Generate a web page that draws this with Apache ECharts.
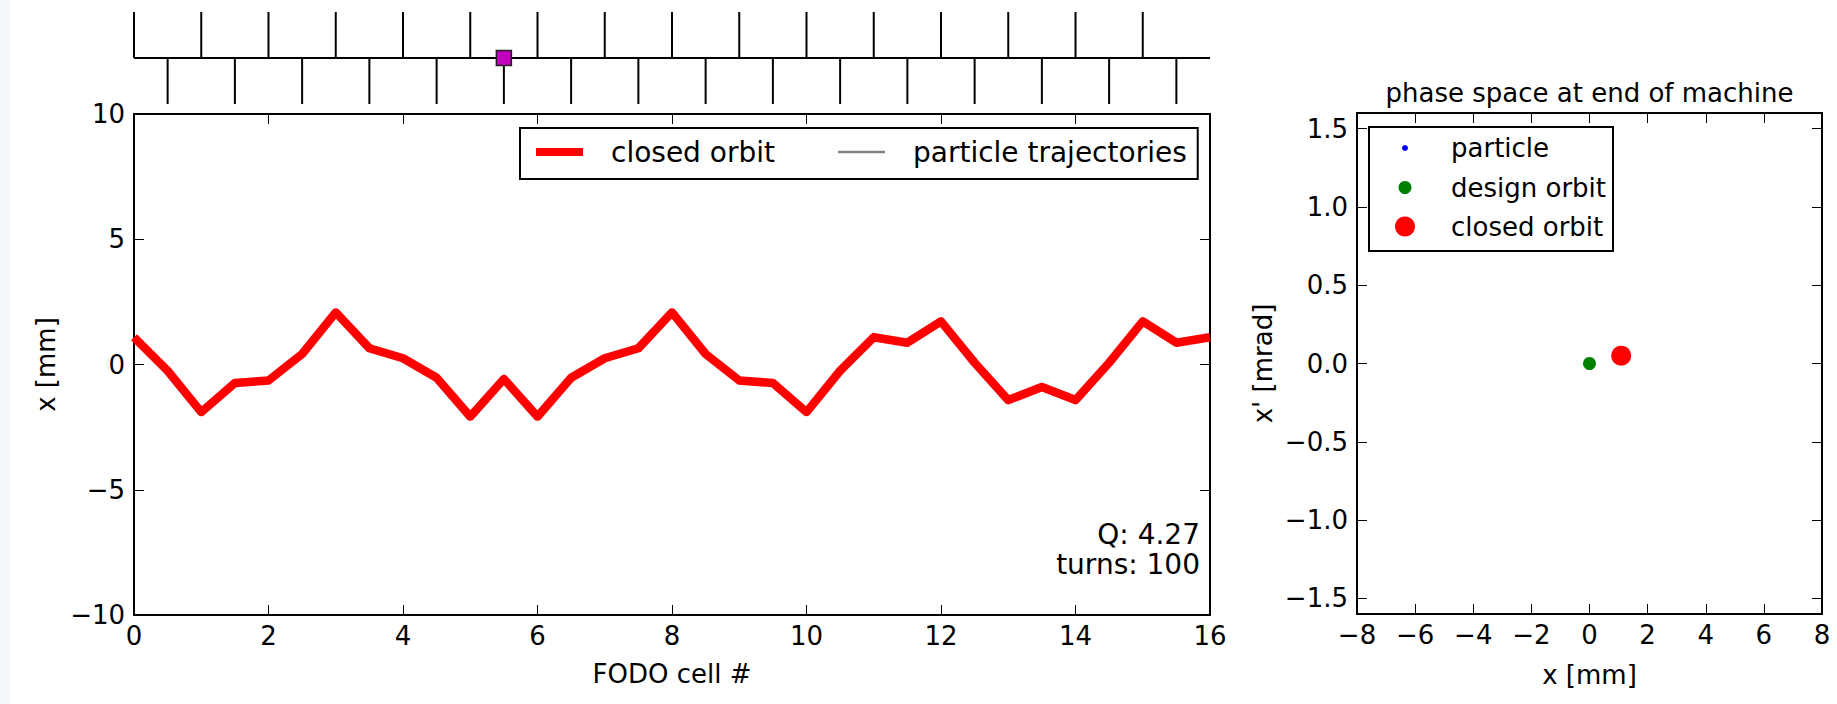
<!DOCTYPE html>
<html>
<head>
<meta charset="utf-8">
<script src="https://cdn.jsdelivr.net/npm/echarts@6/dist/echarts.min.js"></script>
<style>
html,body{margin:0;padding:0;background:#ffffff;}
#chart{width:1837px;height:704px;}
</style>
</head>
<body>
<div id="chart"></div>
<script>
// ---------- data ----------
const cellPositions = [0,0.5,1,1.5,2,2.5,3,3.5,4,4.5,5,5.5,6,6.5,7,7.5,8,8.5,9,9.5,10,10.5,11,11.5,12,12.5,13,13.5,14,14.5,15,15.5,16];
const closedOrbitX  = [1.09,-0.25,-1.9,-0.74,-0.64,0.42,2.08,0.65,0.25,-0.53,-2.08,-0.58,-2.08,-0.53,0.25,0.65,2.08,0.42,-0.64,-0.74,-1.9,-0.25,1.09,0.87,1.72,0.07,-1.42,-0.9,-1.42,0.07,1.72,0.87,1.09];
const particleTrajectories = [];
const focusingQuads   = [0,1,2,3,4,5,6,7,8,9,10,11,12,13,14,15];
const defocusingQuads = [0.5,1.5,2.5,3.5,4.5,5.5,6.5,7.5,8.5,9.5,10.5,11.5,12.5,13.5,14.5,15.5];
const kickPosition    = [5.5];
const latticeLine     = [0,16];
const phaseYTicks     = [-1.5,-1.0,-0.5,0.0,0.5,1.0,1.5];
const particlePoints    = [];
const designOrbitPoint  = [[0.0, 0.0]];
const closedOrbitPoint  = [[1.09, 0.05]];
const tuneQ = '4.27';
const turns = 100;

// ---------- helpers ----------
const FONT = 'DejaVu Sans';
const minus = s => String(s).replace('-', '\u2212');
const frameLine = {show:true, onZero:false, lineStyle:{color:'#000', width:2}};
const tickIn = {show:true, inside:true, length:10, lineStyle:{color:'#000', width:1}};
const lbl = (extra) => Object.assign({color:'#000', fontSize:26, fontFamily:FONT}, extra||{});

const chart = echarts.init(document.getElementById('chart'), null, {renderer:'svg'});

const option = {
  backgroundColor:'#ffffff',
  animation:false,
  textStyle:{fontFamily:FONT},
  title:{
    text:'phase space at end of machine',
    left:1589.5, top:80, padding:0, textAlign:'center',
    textStyle:{color:'#000', fontSize:26, fontWeight:'normal', fontFamily:FONT}
  },
  grid:[
    {left:134, top:114, width:1076, height:501, outerBoundsMode:'none'},
    {left:1357, top:113, width:465, height:501, outerBoundsMode:'none'},
    {left:134, top:12, width:1076, height:92, outerBoundsMode:'none'}
  ],
  xAxis:[
    {gridIndex:0, type:'value', min:0, max:16, interval:2, position:'bottom',
     axisLine:frameLine, axisTick:tickIn, splitLine:{show:false},
     axisLabel:lbl({margin:8, formatter:v=>minus(v)}),
     name:'FODO cell #', nameLocation:'middle', nameGap:46, nameTextStyle:lbl()},
    {gridIndex:0, type:'value', min:0, max:16, interval:2, position:'top',
     axisLine:frameLine, axisTick:tickIn, splitLine:{show:false}, axisLabel:{show:false}},
    {gridIndex:1, type:'value', min:-8, max:8, interval:2, position:'bottom',
     axisLine:frameLine, axisTick:tickIn, splitLine:{show:false},
     axisLabel:lbl({margin:8, formatter:v=>minus(v)}),
     name:'x [mm]', nameLocation:'middle', nameGap:48, nameTextStyle:lbl()},
    {gridIndex:1, type:'value', min:-8, max:8, interval:2, position:'top',
     axisLine:frameLine, axisTick:tickIn, splitLine:{show:false}, axisLabel:{show:false}},
    {gridIndex:2, type:'value', min:0, max:16, show:false}
  ],
  yAxis:[
    {gridIndex:0, type:'value', min:-10, max:10, interval:5, position:'left',
     axisLine:frameLine, axisTick:tickIn, splitLine:{show:false},
     axisLabel:lbl({margin:9, formatter:v=>minus(v)}),
     name:'x [mm]', nameLocation:'middle', nameGap:74, nameTextStyle:lbl()},
    {gridIndex:0, type:'value', min:-10, max:10, interval:5, position:'right',
     axisLine:frameLine, axisTick:tickIn, splitLine:{show:false}, axisLabel:{show:false}},
    {gridIndex:1, type:'value', min:-1.6, max:1.6, position:'left',
     axisLine:frameLine, axisTick:Object.assign({customValues:phaseYTicks}, tickIn), splitLine:{show:false},
     axisLabel:lbl({margin:9, customValues:phaseYTicks, formatter:v=>minus(Number(v).toFixed(1))}),
     name:"x' [mrad]", nameLocation:'middle', nameGap:81, nameTextStyle:lbl()},
    {gridIndex:1, type:'value', min:-1.6, max:1.6, position:'right',
     axisLine:frameLine, axisTick:Object.assign({customValues:phaseYTicks}, tickIn), splitLine:{show:false}, axisLabel:{show:false}},
    {gridIndex:2, type:'value', min:-1, max:1, show:false}
  ],
  legend:[
    {left:520, top:128, padding:[10,11,13,16], orient:'horizontal',
     borderColor:'#000', borderWidth:2, backgroundColor:'#fff',
     itemWidth:47, itemHeight:8, itemGap:63, selectedMode:false, z:10,
     textStyle:{color:'#000', fontSize:28, fontFamily:FONT, lineHeight:28, padding:[0,0,0,23]},
     data:[
       {name:'closed orbit', icon:'rect', itemStyle:{color:'#ff0000', opacity:1}},
       {name:'particle trajectories', icon:'path://M0,0H47V2.5H0Z', itemStyle:{color:'#808080', opacity:1}}
     ]},
    {left:1402, top:133, padding:0, itemWidth:6, itemHeight:6, selectedMode:false, z:10,
     textStyle:{color:'#000', fontSize:26, fontFamily:FONT, lineHeight:30, padding:[0,0,0,38]},
     data:[{name:'particle', icon:'circle', itemStyle:{color:'#0000ff', opacity:1}}]},
    {left:1398.5, top:172.5, padding:0, itemWidth:13, itemHeight:13, selectedMode:false, z:10,
     textStyle:{color:'#000', fontSize:26, fontFamily:FONT, lineHeight:30, padding:[0,0,0,34.5]},
     data:[{name:'design orbit', icon:'circle', itemStyle:{color:'#008000', opacity:1}}]},
    {left:1395, top:211.5, padding:0, itemWidth:20, itemHeight:20, selectedMode:false, z:10,
     textStyle:{color:'#000', fontSize:26, fontFamily:FONT, lineHeight:30, padding:[0,0,0,31]},
     data:[{name:'closed orbit', icon:'circle', itemStyle:{color:'#ff0000', opacity:1}}]}
  ],
  graphic:[
    {type:'rect', left:0, top:0, z:-10, shape:{width:10, height:704}, style:{fill:'#f4f7fb'}},
    {type:'rect', z:5, shape:{x:1369, y:127, width:244, height:124}, style:{fill:'#fff', stroke:'#000', lineWidth:2}},
    {type:'text', z:5, style:{x:1200, y:534, text:'Q: ' + tuneQ, align:'right', verticalAlign:'middle', fontSize:28, fontFamily:FONT, fill:'#000'}},
    {type:'text', z:5, style:{x:1200, y:564, text:'turns: ' + turns, align:'right', verticalAlign:'middle', fontSize:28, fontFamily:FONT, fill:'#000'}}
  ],
  series:[
    {name:'closed orbit', type:'line', xAxisIndex:0, yAxisIndex:0,
     data:cellPositions.map((x,i)=>[x, closedOrbitX[i]]),
     symbol:'none', lineStyle:{color:'#ff0000', width:8.5, join:'round', cap:'butt', opacity:1}, itemStyle:{color:'#ff0000'}, z:3},
    {name:'particle trajectories', type:'line', xAxisIndex:0, yAxisIndex:0,
     data:particleTrajectories, symbol:'none', lineStyle:{color:'#808080', width:2}, itemStyle:{color:'#808080'}},
    {name:'particle', type:'scatter', xAxisIndex:2, yAxisIndex:2, data:particlePoints,
     symbol:'circle', symbolSize:6, itemStyle:{color:'#0000ff', opacity:1}},
    {name:'design orbit', type:'scatter', xAxisIndex:2, yAxisIndex:2, data:designOrbitPoint,
     symbol:'circle', symbolSize:13, itemStyle:{color:'#008000', opacity:1}},
    {name:'closed orbit', type:'scatter', xAxisIndex:2, yAxisIndex:2, data:closedOrbitPoint,
     symbol:'circle', symbolSize:20, itemStyle:{color:'#ff0000', opacity:1}},
    // lattice strip
    {name:'lattice', type:'line', xAxisIndex:4, yAxisIndex:4,
     data:latticeLine.map(x=>[x,0]), symbol:'none', lineStyle:{color:'#000', width:2}, silent:true},
    {name:'focusing', type:'custom', xAxisIndex:4, yAxisIndex:4, silent:true,
     data:focusingQuads.map(x=>[x,0,1]), encode:{x:0, y:[1,2]},
     renderItem:function(params, api){
       const a = api.coord([api.value(0), api.value(1)]);
       const b = api.coord([api.value(0), api.value(2)]);
       return {type:'line', shape:{x1:a[0], y1:a[1], x2:b[0], y2:b[1]}, style:{stroke:'#000', lineWidth:2}};
     }},
    {name:'defocusing', type:'custom', xAxisIndex:4, yAxisIndex:4, silent:true,
     data:defocusingQuads.map(x=>[x,-1,0]), encode:{x:0, y:[1,2]},
     renderItem:function(params, api){
       const a = api.coord([api.value(0), api.value(1)]);
       const b = api.coord([api.value(0), api.value(2)]);
       return {type:'line', shape:{x1:a[0], y1:a[1], x2:b[0], y2:b[1]}, style:{stroke:'#000', lineWidth:2}};
     }},
    {name:'kick', type:'scatter', xAxisIndex:4, yAxisIndex:4, silent:true, z:5,
     data:kickPosition.map(x=>[x,0]), symbol:'rect', symbolSize:15,
     itemStyle:{color:'#bf00bf', borderColor:'#222', borderWidth:1.5, opacity:1}}
  ]
};
chart.setOption(option);
</script>
</body>
</html>
